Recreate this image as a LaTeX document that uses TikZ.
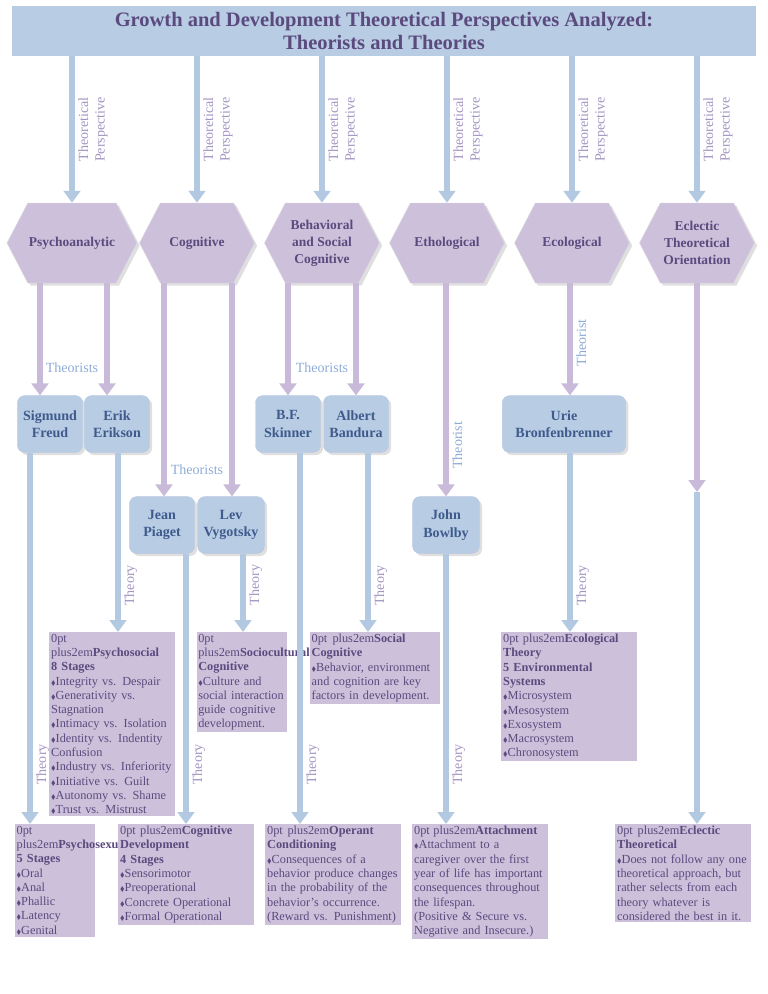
\documentclass[tikz,border=0pt]{standalone}
\usepackage{fontspec}
\usepackage{amssymb}
\setmainfont{Liberation Serif}
\usetikzlibrary{arrows.meta,shapes.symbols,shadows}

\definecolor{bluefill}{HTML}{B8CCE4}
\definecolor{bluearr}{HTML}{B3C9E1}
\definecolor{purpfill}{HTML}{CCC0DA}
\definecolor{purparr}{HTML}{C8BAD8}
\definecolor{purptext}{HTML}{5B4A7E}
\definecolor{bluetext}{HTML}{3F5B8C}
\definecolor{lavlabel}{HTML}{A395C2}
\definecolor{bluelabel}{HTML}{8EABD6}

\newcommand{\bul}{{\scalebox{0.55}{$\blacklozenge$}}}

\tikzset{
  hexa/.style={signal, signal to=west and east, signal pointer angle=125,
    fill=purpfill, draw=purpfill!85!black!40, drop shadow={opacity=0.25},
    minimum width=3.45cm, minimum height=2.4cm, inner sep=1pt,
    text=purptext, font=\fontsize{11.5}{14.5}\selectfont\bfseries, align=center},
  who/.style={rectangle, rounded corners=6pt, fill=bluefill,
    draw=bluefill!80!purparr, drop shadow={opacity=0.25},
    minimum height=1.7cm, inner sep=1pt, text=bluetext,
    font=\fontsize{12}{15}\selectfont\bfseries, align=center},
  theory/.style={rectangle, fill=purpfill, anchor=north, inner sep=1.5pt,
    text=purptext, align=center,
    font=\fontsize{10.5}{12.2}\selectfont\hyphenpenalty=10000},
  bluearrow/.style={bluearr, line width=5pt, -{Triangle[width=0.5cm,length=0.36cm]}},
  purparrow/.style={purparr, line width=5pt, -{Triangle[width=0.5cm,length=0.36cm]}},
  lab/.style={rotate=90, anchor=north, text=lavlabel, align=center, inner sep=3pt,
    font=\fontsize{12}{14}\selectfont},
  blab/.style={rotate=90, anchor=north, text=bluelabel, inner sep=3pt,
    font=\fontsize{12}{14}\selectfont}
}

\begin{document}
\begin{tikzpicture}[x=0.03cm, y=-0.03cm]
\useasboundingbox (0,0) rectangle (768,994);

% title
\node[rectangle, fill=bluefill, minimum width=22.32cm, minimum height=1.5cm,
  text=purptext, font=\fontsize{17.5}{20}\selectfont\bfseries, align=center] (title) at (384,31)
  {Growth and Development Theoretical Perspectives Analyzed:\\Theorists and Theories};

% perspectives
\node[hexa] (psy) at (72,243) {Psychoanalytic};
\node[hexa] (cog) at (197,243) {Cognitive};
\node[hexa] (beh) at (322,243) {Behavioral\\and Social\\Cognitive};
\node[hexa] (eth) at (447,243) {Ethological};
\node[hexa] (eco) at (572,243) {Ecological};
\node[hexa] (ecl) at (697,243) {Eclectic\\Theoretical\\Orientation};

\foreach \p in {psy,cog,beh,eth,eco,ecl}
  \draw[bluearrow] (title.south -| \p.north) -- (\p.north)
    node[lab, pos=0.5] {Theoretical\\Perspective};

% theorists
\node[who, minimum width=1.95cm] (freud) at (50,424) {Sigmund\\Freud};
\node[who, minimum width=1.95cm] (erik) at (117,424) {Erik\\Erikson};
\node[who, minimum width=1.95cm] (piaget) at (162,525) {Jean\\Piaget};
\node[who, minimum width=2cm] (vygot) at (231,525) {Lev\\Vygotsky};
\node[who, minimum width=1.95cm] (skin) at (288,424) {B.F.\\Skinner};
\node[who, minimum width=1.95cm] (band) at (356,424) {Albert\\Bandura};
\node[who, minimum width=2cm] (bowl) at (446,525) {John\\Bowlby};
\node[who, minimum width=3.7cm] (bronf) at (564,424) {Urie\\Bronfenbrenner};
\coordinate (eclmid) at (697,492);

\draw[purparrow] (psy.south -| 40,0) -- (freud.north -| 40,0);
\draw[purparrow] (psy.south -| 107,0) -- (erik.north -| 107,0);
\draw[purparrow] (cog.south -| 164,0) -- (piaget.north -| 164,0);
\draw[purparrow] (cog.south -| 232,0) -- (vygot.north -| 232,0);
\draw[purparrow] (beh.south -| 288,0) -- (skin.north);
\draw[purparrow] (beh.south -| 356,0) -- (band.north);
\draw[purparrow] (eth.south -| bowl.north) -- (bowl.north) node[blab, pos=0.76] {Theorist};
\draw[purparrow] (eco.south -| 570,0) -- (bronf.north -| 570,0) node[blab, pos=0.53] {Theorist};
\draw[purparrow] (ecl.south) -- (eclmid);

\node[text=bluelabel, font=\fontsize{12}{14}\selectfont] (th1) at (72,368) {Theorists};
\node[text=bluelabel, font=\fontsize{12}{14}\selectfont] (th2) at (197,470) {Theorists};
\node[text=bluelabel, font=\fontsize{12}{14}\selectfont] (th3) at (322,368) {Theorists};

% theories
\node[theory, text width=3.65cm] (psoc) at (112,632)
  {\textbf{Psychosocial}\\\textbf{8 Stages}\\\bul Integrity vs. Despair\\\bul Generativity vs.\\Stagnation\\\bul Intimacy vs. Isolation\\\bul Identity vs. Indentity\\Confusion\\\bul Industry vs. Inferiority\\\bul Initiative vs. Guilt\\\bul Autonomy vs. Shame\\\bul Trust vs. Mistrust};
\node[theory, text width=2.62cm] (socio) at (242,632)
  {\textbf{Sociocultural}\\\textbf{Cognitive}\\\bul Culture and\\social interaction\\guide cognitive\\development.};
\node[theory, text width=3.8cm] (soccog) at (375,632)
  {\textbf{Social Cognitive}\\\bul Behavior, environment\\and cognition are key\\factors in development.};
\node[theory, text width=3.95cm] (ecot) at (569,632)
  {\textbf{Ecological Theory}\\\textbf{5 Environmental}\\\textbf{Systems}\\\bul Microsystem\\\bul Mesosystem\\\bul Exosystem\\\bul Macrosystem\\\bul Chronosystem};
\node[theory, text width=2.3cm] (psex) at (55,824)
  {\textbf{Psychosexual}\\\textbf{5 Stages}\\\bul Oral\\\bul Anal\\\bul Phallic\\\bul Latency\\\bul Genital};
\node[theory, text width=3.95cm] (cogdev) at (186,824)
  {\textbf{Cognitive Development}\\\textbf{4 Stages}\\\bul Sensorimotor\\\bul Preoperational\\\bul Concrete Operational\\\bul Formal Operational};
\node[theory, text width=3.95cm] (oper) at (333,824)
  {\textbf{Operant Conditioning}\\\bul Consequences of a\\behavior produce changes\\in the probability of the\\behavior's occurrence.\\(Reward vs. Punishment)};
\node[theory, text width=3.95cm] (attach) at (480,824)
  {\textbf{Attachment}\\\bul Attachment to a\\caregiver over the first\\year of life has important\\consequences throughout\\the lifespan.\\(Positive \& Secure vs.\\Negative and Insecure.)};
\node[theory, text width=3.95cm] (eclt) at (683,824)
  {\textbf{Eclectic Theoretical}\\\bul Does not follow any one\\theoretical approach, but\\rather selects from each\\theory whatever is\\considered the best in it.};

\draw[bluearrow] (freud.south -| 30,0) -- (psex.north -| 30,0) node[lab, pos=0.84] {Theory};
\draw[bluearrow] (erik.south -| 118,0) -- (psoc.north -| 118,0) node[lab, pos=0.74] {Theory};
\draw[bluearrow] (piaget.south -| 186,0) -- (cogdev.north) node[lab, pos=0.78] {Theory};
\draw[bluearrow] (vygot.south -| 243,0) -- (socio.north -| 243,0) node[lab, pos=0.4] {Theory};
\draw[bluearrow] (skin.south -| 300,0) -- (oper.north -| 300,0) node[lab, pos=0.84] {Theory};
\draw[bluearrow] (band.south -| 368,0) -- (soccog.north -| 368,0) node[lab, pos=0.74] {Theory};
\draw[bluearrow] (bowl.south) -- (attach.north -| bowl.south) node[lab, pos=0.78] {Theory};
\draw[bluearrow] (bronf.south -| 570,0) -- (ecot.north -| 570,0) node[lab, pos=0.74] {Theory};
\draw[bluearrow] (eclmid) -- (eclt.north -| eclmid);
\end{tikzpicture}
\end{document}
